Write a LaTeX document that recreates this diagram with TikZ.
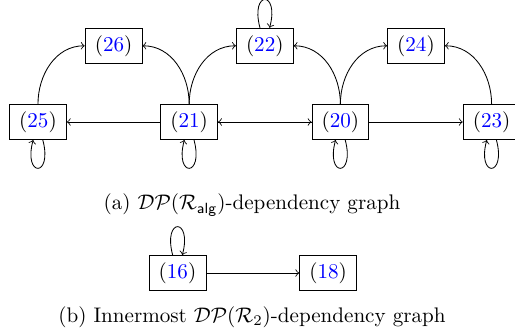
\documentclass[tikz,border=0pt]{standalone}
\usepackage{amsmath}
\usepackage{amssymb}
\usepackage{xcolor}
\usetikzlibrary{positioning, calc}
\newcommand{\rl}[1]{(\textcolor{blue}{#1})}
\newcommand{\DPn}{\mathcal{DP}}

\begin{document}
\begin{tikzpicture}[
    node distance=2.52cm, on grid,
    rule/.style={draw, inner ysep=3.33pt, inner xsep=4.6pt},
    dep/.style={->},
    every loop/.append style={min distance=6.5mm},
    subcap/.style={align=center},
]
\useasboundingbox (-0.633,2.033) rectangle (7.95,-3.533);

% --- (a) main row ---
\node[rule] (n25) at (0,0) {\rl{25}};
\node[rule, right=of n25] (n21) {\rl{21}};
\node[rule, right=of n21] (n20) {\rl{20}};
\node[rule, right=of n20] (n23) {\rl{23}};

% --- (a) upper row ---
\node[rule, above right=1.27cm and 1.26cm of n25] (n26) {\rl{26}};
\node[rule, above right=1.27cm and 1.26cm of n21] (n22) {\rl{22}};
\node[rule, above right=1.27cm and 1.26cm of n20] (n24) {\rl{24}};

% --- (a) edges ---
\draw[dep] (n25.north) to[out=90, in=180] (n26.west);
\draw[dep] (n21.north) to[out=90, in=0] (n26.east);
\draw[dep] (n21.north) to[out=90, in=180] (n22.west);
\draw[dep] (n20.north) to[out=90, in=0] (n22.east);
\draw[dep] (n20.north) to[out=90, in=180] (n24.west);
\draw[dep] (n23.north) to[out=90, in=0] (n24.east);
\draw[dep] (n21) -- (n25);
\draw[dep] (n21) -- (n20);
\draw[dep] (n20) -- (n21);
\draw[dep] (n20) -- (n23);
\draw[dep] (n25) to[loop below] (n25);
\draw[dep] (n21) to[loop below] (n21);
\draw[dep] (n20) to[loop below] (n20);
\draw[dep] (n23) to[loop below] (n23);
\draw[dep] (n22) to[loop above] (n22);

\node[subcap] (capA) at (3.567,-1.383) {(a) $\DPn(\mathcal{R}_{\mathsf{alg}})$-dependency graph};

% --- (b) ---
\node[rule] (n16) at (2.325,-2.517) {\rl{16}};
\node[rule, right=2.51cm of n16] (n18) {\rl{18}};
\draw[dep] (n16) -- (n18);
\draw[dep] (n16) to[loop above] (n16);

\node[subcap] (capB) at (3.567,-3.25) {(b) Innermost $\DPn(\mathcal{R}_2)$-dependency graph};
\end{tikzpicture}
\end{document}
